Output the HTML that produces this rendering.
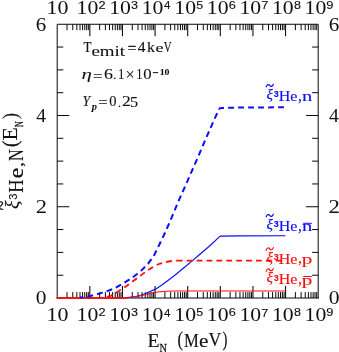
<!DOCTYPE html>
<html><head><meta charset="utf-8"><style>
html,body{margin:0;padding:0;background:#fff;}
svg{display:block;will-change:transform}
</style></head><body>
<svg width="339" height="352" viewBox="0 0 339 352">
<rect width="339" height="352" fill="#fff"/>
<path d="M57.20,298.50 V24.25 H318.20 V298.50" fill="none" stroke="#080808" stroke-width="1.0" stroke-linejoin="miter"/>
<line x1="56.70" y1="298.00" x2="318.70" y2="298.00" stroke="#080808" stroke-width="1.0"/>
<line x1="67.02" y1="24.25" x2="67.02" y2="30.15" stroke="#080808" stroke-width="1.0"/>
<line x1="67.02" y1="298.00" x2="67.02" y2="292.10" stroke="#080808" stroke-width="1.0"/>
<line x1="72.77" y1="24.25" x2="72.77" y2="30.15" stroke="#080808" stroke-width="1.0"/>
<line x1="72.77" y1="298.00" x2="72.77" y2="292.10" stroke="#080808" stroke-width="1.0"/>
<line x1="76.84" y1="24.25" x2="76.84" y2="30.15" stroke="#080808" stroke-width="1.0"/>
<line x1="76.84" y1="298.00" x2="76.84" y2="292.10" stroke="#080808" stroke-width="1.0"/>
<line x1="80.00" y1="24.25" x2="80.00" y2="30.15" stroke="#080808" stroke-width="1.0"/>
<line x1="80.00" y1="298.00" x2="80.00" y2="292.10" stroke="#080808" stroke-width="1.0"/>
<line x1="82.59" y1="24.25" x2="82.59" y2="30.15" stroke="#080808" stroke-width="1.0"/>
<line x1="82.59" y1="298.00" x2="82.59" y2="292.10" stroke="#080808" stroke-width="1.0"/>
<line x1="84.77" y1="24.25" x2="84.77" y2="30.15" stroke="#080808" stroke-width="1.0"/>
<line x1="84.77" y1="298.00" x2="84.77" y2="292.10" stroke="#080808" stroke-width="1.0"/>
<line x1="86.66" y1="24.25" x2="86.66" y2="30.15" stroke="#080808" stroke-width="1.0"/>
<line x1="86.66" y1="298.00" x2="86.66" y2="292.10" stroke="#080808" stroke-width="1.0"/>
<line x1="88.33" y1="24.25" x2="88.33" y2="30.15" stroke="#080808" stroke-width="1.0"/>
<line x1="88.33" y1="298.00" x2="88.33" y2="292.10" stroke="#080808" stroke-width="1.0"/>
<line x1="89.83" y1="24.25" x2="89.83" y2="36.15" stroke="#080808" stroke-width="1.05"/>
<line x1="89.83" y1="298.00" x2="89.83" y2="286.10" stroke="#080808" stroke-width="1.05"/>
<line x1="99.65" y1="24.25" x2="99.65" y2="30.15" stroke="#080808" stroke-width="1.0"/>
<line x1="99.65" y1="298.00" x2="99.65" y2="292.10" stroke="#080808" stroke-width="1.0"/>
<line x1="105.39" y1="24.25" x2="105.39" y2="30.15" stroke="#080808" stroke-width="1.0"/>
<line x1="105.39" y1="298.00" x2="105.39" y2="292.10" stroke="#080808" stroke-width="1.0"/>
<line x1="109.47" y1="24.25" x2="109.47" y2="30.15" stroke="#080808" stroke-width="1.0"/>
<line x1="109.47" y1="298.00" x2="109.47" y2="292.10" stroke="#080808" stroke-width="1.0"/>
<line x1="112.63" y1="24.25" x2="112.63" y2="30.15" stroke="#080808" stroke-width="1.0"/>
<line x1="112.63" y1="298.00" x2="112.63" y2="292.10" stroke="#080808" stroke-width="1.0"/>
<line x1="115.21" y1="24.25" x2="115.21" y2="30.15" stroke="#080808" stroke-width="1.0"/>
<line x1="115.21" y1="298.00" x2="115.21" y2="292.10" stroke="#080808" stroke-width="1.0"/>
<line x1="117.40" y1="24.25" x2="117.40" y2="30.15" stroke="#080808" stroke-width="1.0"/>
<line x1="117.40" y1="298.00" x2="117.40" y2="292.10" stroke="#080808" stroke-width="1.0"/>
<line x1="119.29" y1="24.25" x2="119.29" y2="30.15" stroke="#080808" stroke-width="1.0"/>
<line x1="119.29" y1="298.00" x2="119.29" y2="292.10" stroke="#080808" stroke-width="1.0"/>
<line x1="120.96" y1="24.25" x2="120.96" y2="30.15" stroke="#080808" stroke-width="1.0"/>
<line x1="120.96" y1="298.00" x2="120.96" y2="292.10" stroke="#080808" stroke-width="1.0"/>
<line x1="122.45" y1="24.25" x2="122.45" y2="36.15" stroke="#080808" stroke-width="1.05"/>
<line x1="122.45" y1="298.00" x2="122.45" y2="286.10" stroke="#080808" stroke-width="1.05"/>
<line x1="132.27" y1="24.25" x2="132.27" y2="30.15" stroke="#080808" stroke-width="1.0"/>
<line x1="132.27" y1="298.00" x2="132.27" y2="292.10" stroke="#080808" stroke-width="1.0"/>
<line x1="138.02" y1="24.25" x2="138.02" y2="30.15" stroke="#080808" stroke-width="1.0"/>
<line x1="138.02" y1="298.00" x2="138.02" y2="292.10" stroke="#080808" stroke-width="1.0"/>
<line x1="142.09" y1="24.25" x2="142.09" y2="30.15" stroke="#080808" stroke-width="1.0"/>
<line x1="142.09" y1="298.00" x2="142.09" y2="292.10" stroke="#080808" stroke-width="1.0"/>
<line x1="145.25" y1="24.25" x2="145.25" y2="30.15" stroke="#080808" stroke-width="1.0"/>
<line x1="145.25" y1="298.00" x2="145.25" y2="292.10" stroke="#080808" stroke-width="1.0"/>
<line x1="147.84" y1="24.25" x2="147.84" y2="30.15" stroke="#080808" stroke-width="1.0"/>
<line x1="147.84" y1="298.00" x2="147.84" y2="292.10" stroke="#080808" stroke-width="1.0"/>
<line x1="150.02" y1="24.25" x2="150.02" y2="30.15" stroke="#080808" stroke-width="1.0"/>
<line x1="150.02" y1="298.00" x2="150.02" y2="292.10" stroke="#080808" stroke-width="1.0"/>
<line x1="151.91" y1="24.25" x2="151.91" y2="30.15" stroke="#080808" stroke-width="1.0"/>
<line x1="151.91" y1="298.00" x2="151.91" y2="292.10" stroke="#080808" stroke-width="1.0"/>
<line x1="153.58" y1="24.25" x2="153.58" y2="30.15" stroke="#080808" stroke-width="1.0"/>
<line x1="153.58" y1="298.00" x2="153.58" y2="292.10" stroke="#080808" stroke-width="1.0"/>
<line x1="155.07" y1="24.25" x2="155.07" y2="36.15" stroke="#080808" stroke-width="1.05"/>
<line x1="155.07" y1="298.00" x2="155.07" y2="286.10" stroke="#080808" stroke-width="1.05"/>
<line x1="164.90" y1="24.25" x2="164.90" y2="30.15" stroke="#080808" stroke-width="1.0"/>
<line x1="164.90" y1="298.00" x2="164.90" y2="292.10" stroke="#080808" stroke-width="1.0"/>
<line x1="170.64" y1="24.25" x2="170.64" y2="30.15" stroke="#080808" stroke-width="1.0"/>
<line x1="170.64" y1="298.00" x2="170.64" y2="292.10" stroke="#080808" stroke-width="1.0"/>
<line x1="174.72" y1="24.25" x2="174.72" y2="30.15" stroke="#080808" stroke-width="1.0"/>
<line x1="174.72" y1="298.00" x2="174.72" y2="292.10" stroke="#080808" stroke-width="1.0"/>
<line x1="177.88" y1="24.25" x2="177.88" y2="30.15" stroke="#080808" stroke-width="1.0"/>
<line x1="177.88" y1="298.00" x2="177.88" y2="292.10" stroke="#080808" stroke-width="1.0"/>
<line x1="180.46" y1="24.25" x2="180.46" y2="30.15" stroke="#080808" stroke-width="1.0"/>
<line x1="180.46" y1="298.00" x2="180.46" y2="292.10" stroke="#080808" stroke-width="1.0"/>
<line x1="182.65" y1="24.25" x2="182.65" y2="30.15" stroke="#080808" stroke-width="1.0"/>
<line x1="182.65" y1="298.00" x2="182.65" y2="292.10" stroke="#080808" stroke-width="1.0"/>
<line x1="184.54" y1="24.25" x2="184.54" y2="30.15" stroke="#080808" stroke-width="1.0"/>
<line x1="184.54" y1="298.00" x2="184.54" y2="292.10" stroke="#080808" stroke-width="1.0"/>
<line x1="186.21" y1="24.25" x2="186.21" y2="30.15" stroke="#080808" stroke-width="1.0"/>
<line x1="186.21" y1="298.00" x2="186.21" y2="292.10" stroke="#080808" stroke-width="1.0"/>
<line x1="187.70" y1="24.25" x2="187.70" y2="36.15" stroke="#080808" stroke-width="1.05"/>
<line x1="187.70" y1="298.00" x2="187.70" y2="286.10" stroke="#080808" stroke-width="1.05"/>
<line x1="197.52" y1="24.25" x2="197.52" y2="30.15" stroke="#080808" stroke-width="1.0"/>
<line x1="197.52" y1="298.00" x2="197.52" y2="292.10" stroke="#080808" stroke-width="1.0"/>
<line x1="203.27" y1="24.25" x2="203.27" y2="30.15" stroke="#080808" stroke-width="1.0"/>
<line x1="203.27" y1="298.00" x2="203.27" y2="292.10" stroke="#080808" stroke-width="1.0"/>
<line x1="207.34" y1="24.25" x2="207.34" y2="30.15" stroke="#080808" stroke-width="1.0"/>
<line x1="207.34" y1="298.00" x2="207.34" y2="292.10" stroke="#080808" stroke-width="1.0"/>
<line x1="210.50" y1="24.25" x2="210.50" y2="30.15" stroke="#080808" stroke-width="1.0"/>
<line x1="210.50" y1="298.00" x2="210.50" y2="292.10" stroke="#080808" stroke-width="1.0"/>
<line x1="213.09" y1="24.25" x2="213.09" y2="30.15" stroke="#080808" stroke-width="1.0"/>
<line x1="213.09" y1="298.00" x2="213.09" y2="292.10" stroke="#080808" stroke-width="1.0"/>
<line x1="215.27" y1="24.25" x2="215.27" y2="30.15" stroke="#080808" stroke-width="1.0"/>
<line x1="215.27" y1="298.00" x2="215.27" y2="292.10" stroke="#080808" stroke-width="1.0"/>
<line x1="217.16" y1="24.25" x2="217.16" y2="30.15" stroke="#080808" stroke-width="1.0"/>
<line x1="217.16" y1="298.00" x2="217.16" y2="292.10" stroke="#080808" stroke-width="1.0"/>
<line x1="218.83" y1="24.25" x2="218.83" y2="30.15" stroke="#080808" stroke-width="1.0"/>
<line x1="218.83" y1="298.00" x2="218.83" y2="292.10" stroke="#080808" stroke-width="1.0"/>
<line x1="220.32" y1="24.25" x2="220.32" y2="36.15" stroke="#080808" stroke-width="1.05"/>
<line x1="220.32" y1="298.00" x2="220.32" y2="286.10" stroke="#080808" stroke-width="1.05"/>
<line x1="230.15" y1="24.25" x2="230.15" y2="30.15" stroke="#080808" stroke-width="1.0"/>
<line x1="230.15" y1="298.00" x2="230.15" y2="292.10" stroke="#080808" stroke-width="1.0"/>
<line x1="235.89" y1="24.25" x2="235.89" y2="30.15" stroke="#080808" stroke-width="1.0"/>
<line x1="235.89" y1="298.00" x2="235.89" y2="292.10" stroke="#080808" stroke-width="1.0"/>
<line x1="239.97" y1="24.25" x2="239.97" y2="30.15" stroke="#080808" stroke-width="1.0"/>
<line x1="239.97" y1="298.00" x2="239.97" y2="292.10" stroke="#080808" stroke-width="1.0"/>
<line x1="243.13" y1="24.25" x2="243.13" y2="30.15" stroke="#080808" stroke-width="1.0"/>
<line x1="243.13" y1="298.00" x2="243.13" y2="292.10" stroke="#080808" stroke-width="1.0"/>
<line x1="245.71" y1="24.25" x2="245.71" y2="30.15" stroke="#080808" stroke-width="1.0"/>
<line x1="245.71" y1="298.00" x2="245.71" y2="292.10" stroke="#080808" stroke-width="1.0"/>
<line x1="247.90" y1="24.25" x2="247.90" y2="30.15" stroke="#080808" stroke-width="1.0"/>
<line x1="247.90" y1="298.00" x2="247.90" y2="292.10" stroke="#080808" stroke-width="1.0"/>
<line x1="249.79" y1="24.25" x2="249.79" y2="30.15" stroke="#080808" stroke-width="1.0"/>
<line x1="249.79" y1="298.00" x2="249.79" y2="292.10" stroke="#080808" stroke-width="1.0"/>
<line x1="251.46" y1="24.25" x2="251.46" y2="30.15" stroke="#080808" stroke-width="1.0"/>
<line x1="251.46" y1="298.00" x2="251.46" y2="292.10" stroke="#080808" stroke-width="1.0"/>
<line x1="252.95" y1="24.25" x2="252.95" y2="36.15" stroke="#080808" stroke-width="1.05"/>
<line x1="252.95" y1="298.00" x2="252.95" y2="286.10" stroke="#080808" stroke-width="1.05"/>
<line x1="262.77" y1="24.25" x2="262.77" y2="30.15" stroke="#080808" stroke-width="1.0"/>
<line x1="262.77" y1="298.00" x2="262.77" y2="292.10" stroke="#080808" stroke-width="1.0"/>
<line x1="268.52" y1="24.25" x2="268.52" y2="30.15" stroke="#080808" stroke-width="1.0"/>
<line x1="268.52" y1="298.00" x2="268.52" y2="292.10" stroke="#080808" stroke-width="1.0"/>
<line x1="272.59" y1="24.25" x2="272.59" y2="30.15" stroke="#080808" stroke-width="1.0"/>
<line x1="272.59" y1="298.00" x2="272.59" y2="292.10" stroke="#080808" stroke-width="1.0"/>
<line x1="275.75" y1="24.25" x2="275.75" y2="30.15" stroke="#080808" stroke-width="1.0"/>
<line x1="275.75" y1="298.00" x2="275.75" y2="292.10" stroke="#080808" stroke-width="1.0"/>
<line x1="278.34" y1="24.25" x2="278.34" y2="30.15" stroke="#080808" stroke-width="1.0"/>
<line x1="278.34" y1="298.00" x2="278.34" y2="292.10" stroke="#080808" stroke-width="1.0"/>
<line x1="280.52" y1="24.25" x2="280.52" y2="30.15" stroke="#080808" stroke-width="1.0"/>
<line x1="280.52" y1="298.00" x2="280.52" y2="292.10" stroke="#080808" stroke-width="1.0"/>
<line x1="282.41" y1="24.25" x2="282.41" y2="30.15" stroke="#080808" stroke-width="1.0"/>
<line x1="282.41" y1="298.00" x2="282.41" y2="292.10" stroke="#080808" stroke-width="1.0"/>
<line x1="284.08" y1="24.25" x2="284.08" y2="30.15" stroke="#080808" stroke-width="1.0"/>
<line x1="284.08" y1="298.00" x2="284.08" y2="292.10" stroke="#080808" stroke-width="1.0"/>
<line x1="285.57" y1="24.25" x2="285.57" y2="36.15" stroke="#080808" stroke-width="1.05"/>
<line x1="285.57" y1="298.00" x2="285.57" y2="286.10" stroke="#080808" stroke-width="1.05"/>
<line x1="295.40" y1="24.25" x2="295.40" y2="30.15" stroke="#080808" stroke-width="1.0"/>
<line x1="295.40" y1="298.00" x2="295.40" y2="292.10" stroke="#080808" stroke-width="1.0"/>
<line x1="301.14" y1="24.25" x2="301.14" y2="30.15" stroke="#080808" stroke-width="1.0"/>
<line x1="301.14" y1="298.00" x2="301.14" y2="292.10" stroke="#080808" stroke-width="1.0"/>
<line x1="305.22" y1="24.25" x2="305.22" y2="30.15" stroke="#080808" stroke-width="1.0"/>
<line x1="305.22" y1="298.00" x2="305.22" y2="292.10" stroke="#080808" stroke-width="1.0"/>
<line x1="308.38" y1="24.25" x2="308.38" y2="30.15" stroke="#080808" stroke-width="1.0"/>
<line x1="308.38" y1="298.00" x2="308.38" y2="292.10" stroke="#080808" stroke-width="1.0"/>
<line x1="310.96" y1="24.25" x2="310.96" y2="30.15" stroke="#080808" stroke-width="1.0"/>
<line x1="310.96" y1="298.00" x2="310.96" y2="292.10" stroke="#080808" stroke-width="1.0"/>
<line x1="313.15" y1="24.25" x2="313.15" y2="30.15" stroke="#080808" stroke-width="1.0"/>
<line x1="313.15" y1="298.00" x2="313.15" y2="292.10" stroke="#080808" stroke-width="1.0"/>
<line x1="315.04" y1="24.25" x2="315.04" y2="30.15" stroke="#080808" stroke-width="1.0"/>
<line x1="315.04" y1="298.00" x2="315.04" y2="292.10" stroke="#080808" stroke-width="1.0"/>
<line x1="316.71" y1="24.25" x2="316.71" y2="30.15" stroke="#080808" stroke-width="1.0"/>
<line x1="316.71" y1="298.00" x2="316.71" y2="292.10" stroke="#080808" stroke-width="1.0"/>
<line x1="57.20" y1="275.19" x2="63.30" y2="275.19" stroke="#080808" stroke-width="1.0"/>
<line x1="318.20" y1="275.19" x2="312.10" y2="275.19" stroke="#080808" stroke-width="1.0"/>
<line x1="57.20" y1="252.38" x2="63.30" y2="252.38" stroke="#080808" stroke-width="1.0"/>
<line x1="318.20" y1="252.38" x2="312.10" y2="252.38" stroke="#080808" stroke-width="1.0"/>
<line x1="57.20" y1="229.56" x2="63.30" y2="229.56" stroke="#080808" stroke-width="1.0"/>
<line x1="318.20" y1="229.56" x2="312.10" y2="229.56" stroke="#080808" stroke-width="1.0"/>
<line x1="57.20" y1="206.75" x2="69.30" y2="206.75" stroke="#080808" stroke-width="1.0"/>
<line x1="318.20" y1="206.75" x2="306.10" y2="206.75" stroke="#080808" stroke-width="1.0"/>
<line x1="57.20" y1="183.94" x2="63.30" y2="183.94" stroke="#080808" stroke-width="1.0"/>
<line x1="318.20" y1="183.94" x2="312.10" y2="183.94" stroke="#080808" stroke-width="1.0"/>
<line x1="57.20" y1="161.12" x2="63.30" y2="161.12" stroke="#080808" stroke-width="1.0"/>
<line x1="318.20" y1="161.12" x2="312.10" y2="161.12" stroke="#080808" stroke-width="1.0"/>
<line x1="57.20" y1="138.31" x2="63.30" y2="138.31" stroke="#080808" stroke-width="1.0"/>
<line x1="318.20" y1="138.31" x2="312.10" y2="138.31" stroke="#080808" stroke-width="1.0"/>
<line x1="57.20" y1="115.50" x2="69.30" y2="115.50" stroke="#080808" stroke-width="1.0"/>
<line x1="318.20" y1="115.50" x2="306.10" y2="115.50" stroke="#080808" stroke-width="1.0"/>
<line x1="57.20" y1="92.69" x2="63.30" y2="92.69" stroke="#080808" stroke-width="1.0"/>
<line x1="318.20" y1="92.69" x2="312.10" y2="92.69" stroke="#080808" stroke-width="1.0"/>
<line x1="57.20" y1="69.88" x2="63.30" y2="69.88" stroke="#080808" stroke-width="1.0"/>
<line x1="318.20" y1="69.88" x2="312.10" y2="69.88" stroke="#080808" stroke-width="1.0"/>
<line x1="57.20" y1="47.06" x2="63.30" y2="47.06" stroke="#080808" stroke-width="1.0"/>
<line x1="318.20" y1="47.06" x2="312.10" y2="47.06" stroke="#080808" stroke-width="1.0"/>
<path d="M116.0,297.9 L121.0,297.8 L126.9,297.5 L135.7,296.6 L140.0,295.5 L144.6,294.0 L148.8,292.1 L155.0,289.4 L161.2,285.5 L168.3,280.2 L175.4,274.7 L184.2,267.5 L193.1,260.1 L199.3,254.8 L209.0,246.5 L219.9,236.4 L220.7,236.1 L240.0,235.9 L285.5,235.7" fill="none" stroke="#0c0cff" stroke-width="1.15" stroke-linejoin="round"/>
<path d="M57.6,297.9 L122.0,297.8 L130.0,297.4 L135.7,296.8 L140.0,295.9 L148.8,293.8 L157.7,291.9 L166.5,291.3 L175.4,291.0 L285.5,291.0" fill="none" stroke="#ff0c0c" stroke-width="1.05" stroke-linejoin="round"/>
<line x1="56.6" y1="298.0" x2="128" y2="298.0" stroke="#ff0c0c" stroke-width="1.5"/>
<path d="M176.8,260.6 L285.5,260.6" fill="none" stroke="#ff0c0c" stroke-width="1.8" stroke-dasharray="5.8 4.1"/>
<path d="M176.8,260.6 L176.0,260.7 L171.9,261.0 L168.5,261.5 L164.8,262.3 L161.0,263.4 L157.7,264.5 L154.3,266.2 L150.6,268.5 L146.3,271.3 L139.2,276.6 L132.2,281.9 L125.1,286.9 L118.0,291.6 L110.9,295.8 L105.6,297.3 L100.0,297.8 L57.6,297.9" fill="none" stroke="#ff0c0c" stroke-width="1.8" stroke-dasharray="5.8 4.1" stroke-dashoffset="4.9" stroke-linejoin="round"/>
<path d="M219.3,108.7 L220.2,108.2 L222.0,108.0 L230.0,107.7 L245.0,107.5 L285.5,107.3" fill="none" stroke="#0c0cff" stroke-width="2.0" stroke-dasharray="5.8 4.2" stroke-dashoffset="1.0" stroke-linejoin="round"/>
<path d="M219.3,108.7 L213.8,120.5 L204.9,140.9 L196.1,161.4 L187.1,181.8 L178.0,202.3 L169.5,222.7 L164.2,234.5 L160.0,243.2 L153.8,255.9 L148.1,263.7 L141.0,270.9 L132.2,277.8 L123.3,283.3 L114.5,288.3 L105.6,291.8 L96.8,294.3 L87.5,296.8 L80.0,297.6" fill="none" stroke="#0c0cff" stroke-width="2.0" stroke-dasharray="5.95 4.06" stroke-dashoffset="5.0" stroke-linejoin="round"/>
<path transform="translate(0,0)" d="M266.2,86.9 C266.9,84.3 268.7,84.0 269.7,85.4 C270.7,86.9 272.4,86.7 273.3,84.2" fill="none" stroke="#0c0cff" stroke-width="1.2" stroke-linecap="round"/>
<path transform="translate(0,130)" d="M266.2,86.9 C266.9,84.3 268.7,84.0 269.7,85.4 C270.7,86.9 272.4,86.7 273.3,84.2" fill="none" stroke="#0c0cff" stroke-width="1.2" stroke-linecap="round"/>
<path transform="translate(0,163.4)" d="M266.2,86.9 C266.9,84.3 268.7,84.0 269.7,85.4 C270.7,86.9 272.4,86.7 273.3,84.2" fill="none" stroke="#ff0c0c" stroke-width="1.2" stroke-linecap="round"/>
<path transform="translate(0,184.39999999999998)" d="M266.2,86.9 C266.9,84.3 268.7,84.0 269.7,85.4 C270.7,86.9 272.4,86.7 273.3,84.2" fill="none" stroke="#ff0c0c" stroke-width="1.2" stroke-linecap="round"/>
<line x1="152.90" y1="72.60" x2="158.20" y2="72.60" stroke="#111" stroke-width="1.0"/>
<line x1="303.20" y1="223.30" x2="311.80" y2="223.30" stroke="#0c0cff" stroke-width="1.0"/>
<line x1="303.20" y1="276.50" x2="311.80" y2="276.50" stroke="#ff0c0c" stroke-width="1.0"/>
<text transform="translate(46.62,13.91) scale(1.1225,1)" font-size="19.56" font-family="Liberation Serif, serif" fill="#111">10</text>
<text transform="translate(46.62,321.41) scale(1.1310,1)" font-size="19.41" font-family="Liberation Serif, serif" fill="#111">10</text>
<text transform="translate(76.61,13.91) scale(1.1107,1)" font-size="19.56" font-family="Liberation Serif, serif" fill="#111">10</text>
<text transform="translate(98.38,8.74) scale(1.1501,1)" font-size="11.11" font-family="Liberation Sans, sans-serif" fill="#111" stroke="#111" stroke-width="0.12" stroke-linejoin="round">2</text>
<text transform="translate(76.61,321.41) scale(1.1191,1)" font-size="19.41" font-family="Liberation Serif, serif" fill="#111">10</text>
<text transform="translate(98.38,316.44) scale(1.1501,1)" font-size="11.11" font-family="Liberation Sans, sans-serif" fill="#111" stroke="#111" stroke-width="0.12" stroke-linejoin="round">2</text>
<text transform="translate(109.17,13.91) scale(1.1107,1)" font-size="19.56" font-family="Liberation Serif, serif" fill="#111">10</text>
<text transform="translate(131.08,8.63) scale(1.1417,1)" font-size="10.96" font-family="Liberation Sans, sans-serif" fill="#111" stroke="#111" stroke-width="0.12" stroke-linejoin="round">3</text>
<text transform="translate(109.17,321.41) scale(1.1191,1)" font-size="19.41" font-family="Liberation Serif, serif" fill="#111">10</text>
<text transform="translate(131.08,316.33) scale(1.1417,1)" font-size="10.96" font-family="Liberation Sans, sans-serif" fill="#111" stroke="#111" stroke-width="0.12" stroke-linejoin="round">3</text>
<text transform="translate(141.73,13.91) scale(1.1107,1)" font-size="19.56" font-family="Liberation Serif, serif" fill="#111">10</text>
<text transform="translate(163.92,8.85) scale(1.0077,1)" font-size="11.44" font-family="Liberation Sans, sans-serif" fill="#111" stroke="#111" stroke-width="0.12" stroke-linejoin="round">4</text>
<text transform="translate(141.73,321.41) scale(1.1191,1)" font-size="19.41" font-family="Liberation Serif, serif" fill="#111">10</text>
<text transform="translate(163.92,316.55) scale(1.0077,1)" font-size="11.44" font-family="Liberation Sans, sans-serif" fill="#111" stroke="#111" stroke-width="0.12" stroke-linejoin="round">4</text>
<text transform="translate(174.29,13.91) scale(1.1107,1)" font-size="19.56" font-family="Liberation Serif, serif" fill="#111">10</text>
<text transform="translate(196.21,8.63) scale(1.1256,1)" font-size="11.11" font-family="Liberation Sans, sans-serif" fill="#111" stroke="#111" stroke-width="0.12" stroke-linejoin="round">5</text>
<text transform="translate(174.29,321.41) scale(1.1191,1)" font-size="19.41" font-family="Liberation Serif, serif" fill="#111">10</text>
<text transform="translate(196.21,316.33) scale(1.1256,1)" font-size="11.11" font-family="Liberation Sans, sans-serif" fill="#111" stroke="#111" stroke-width="0.12" stroke-linejoin="round">5</text>
<text transform="translate(206.86,13.91) scale(1.1107,1)" font-size="19.56" font-family="Liberation Serif, serif" fill="#111">10</text>
<text transform="translate(228.63,8.63) scale(1.1665,1)" font-size="10.96" font-family="Liberation Sans, sans-serif" fill="#111" stroke="#111" stroke-width="0.12" stroke-linejoin="round">6</text>
<text transform="translate(206.86,321.41) scale(1.1191,1)" font-size="19.41" font-family="Liberation Serif, serif" fill="#111">10</text>
<text transform="translate(228.63,316.33) scale(1.1665,1)" font-size="10.96" font-family="Liberation Sans, sans-serif" fill="#111" stroke="#111" stroke-width="0.12" stroke-linejoin="round">6</text>
<text transform="translate(239.42,13.91) scale(1.1107,1)" font-size="19.56" font-family="Liberation Serif, serif" fill="#111">10</text>
<text transform="translate(261.20,8.85) scale(1.1172,1)" font-size="11.44" font-family="Liberation Sans, sans-serif" fill="#111" stroke="#111" stroke-width="0.12" stroke-linejoin="round">7</text>
<text transform="translate(239.42,321.41) scale(1.1191,1)" font-size="19.41" font-family="Liberation Serif, serif" fill="#111">10</text>
<text transform="translate(261.20,316.55) scale(1.1172,1)" font-size="11.44" font-family="Liberation Sans, sans-serif" fill="#111" stroke="#111" stroke-width="0.12" stroke-linejoin="round">7</text>
<text transform="translate(271.98,13.91) scale(1.1107,1)" font-size="19.56" font-family="Liberation Serif, serif" fill="#111">10</text>
<text transform="translate(293.90,8.63) scale(1.1417,1)" font-size="10.96" font-family="Liberation Sans, sans-serif" fill="#111" stroke="#111" stroke-width="0.12" stroke-linejoin="round">8</text>
<text transform="translate(271.98,321.41) scale(1.1191,1)" font-size="19.41" font-family="Liberation Serif, serif" fill="#111">10</text>
<text transform="translate(293.90,316.33) scale(1.1417,1)" font-size="10.96" font-family="Liberation Sans, sans-serif" fill="#111" stroke="#111" stroke-width="0.12" stroke-linejoin="round">8</text>
<text transform="translate(304.54,13.91) scale(1.1107,1)" font-size="19.56" font-family="Liberation Serif, serif" fill="#111">10</text>
<text transform="translate(326.32,8.63) scale(1.1665,1)" font-size="10.96" font-family="Liberation Sans, sans-serif" fill="#111" stroke="#111" stroke-width="0.12" stroke-linejoin="round">9</text>
<text transform="translate(304.54,321.41) scale(1.1191,1)" font-size="19.41" font-family="Liberation Serif, serif" fill="#111">10</text>
<text transform="translate(326.32,316.33) scale(1.1665,1)" font-size="10.96" font-family="Liberation Sans, sans-serif" fill="#111" stroke="#111" stroke-width="0.12" stroke-linejoin="round">9</text>
<text transform="translate(35.74,304.01) scale(1.1130,1)" font-size="19.25" font-family="Liberation Serif, serif" fill="#111">0</text>
<text transform="translate(328.63,304.01) scale(1.1253,1)" font-size="19.25" font-family="Liberation Serif, serif" fill="#111">0</text>
<text transform="translate(35.70,213.23) scale(1.1337,1)" font-size="19.85" font-family="Liberation Serif, serif" fill="#111">2</text>
<text transform="translate(328.59,213.23) scale(1.1463,1)" font-size="19.85" font-family="Liberation Serif, serif" fill="#111">2</text>
<text transform="translate(36.21,122.07) scale(0.9858,1)" font-size="19.85" font-family="Liberation Serif, serif" fill="#111">4</text>
<text transform="translate(329.10,122.07) scale(0.9968,1)" font-size="19.85" font-family="Liberation Serif, serif" fill="#111">4</text>
<text transform="translate(35.76,30.52) scale(1.0871,1)" font-size="19.25" font-family="Liberation Serif, serif" fill="#111">6</text>
<text transform="translate(328.65,30.52) scale(1.0992,1)" font-size="19.25" font-family="Liberation Serif, serif" fill="#111">6</text>
<text transform="translate(147.48,346.62) scale(1.0212,1)" font-size="19.31" font-family="Liberation Serif, serif" fill="#111" stroke="#111" stroke-width="0.15" stroke-linejoin="round">E</text>
<text transform="translate(159.41,351.77) scale(0.8700,1)" font-size="11.92" font-family="Liberation Serif, serif" fill="#111" stroke="#111" stroke-width="0.25" stroke-linejoin="round">N</text>
<text transform="translate(177.41,345.64) scale(0.8389,1)" font-size="19.94" font-family="Liberation Serif, serif" fill="#111" stroke="#111" stroke-width="0.15" stroke-linejoin="round">(</text>
<text transform="translate(183.97,346.62) scale(0.8643,1)" font-size="19.31" font-family="Liberation Serif, serif" fill="#111" stroke="#111" stroke-width="0.15" stroke-linejoin="round">M</text>
<text transform="translate(198.93,346.65) scale(1.1911,1)" font-size="17.81" font-family="Liberation Serif, serif" fill="#111" stroke="#111" stroke-width="0.15" stroke-linejoin="round">e</text>
<text transform="translate(208.40,346.44) scale(0.9271,1)" font-size="19.03" font-family="Liberation Serif, serif" fill="#111" stroke="#111" stroke-width="0.15" stroke-linejoin="round">V</text>
<text transform="translate(222.43,345.64) scale(0.7424,1)" font-size="19.94" font-family="Liberation Serif, serif" fill="#111" stroke="#111" stroke-width="0.15" stroke-linejoin="round">)</text>
<text transform="translate(17.78,209.11) rotate(-90) scale(1.0572,1)" font-size="18.56" font-family="Liberation Serif, serif" fill="#111" font-style="italic" stroke="#111" stroke-width="0.15" stroke-linejoin="round">ξ</text>
<text transform="translate(8.40,210.38) rotate(-90) scale(0.9188,1)" font-size="20.29" font-family="Liberation Serif, serif" fill="#111" stroke="#111" stroke-width="0.15" stroke-linejoin="round">~</text>
<text transform="translate(16.64,199.69) rotate(-90) scale(0.9943,1)" font-size="11.13" font-family="Liberation Sans, sans-serif" fill="#111" stroke="#111" stroke-width="0.1" stroke-linejoin="round">3</text>
<text transform="translate(22.93,192.68) rotate(-90) scale(0.8517,1)" font-size="21.62" font-family="Liberation Serif, serif" fill="#111" stroke="#111" stroke-width="0.15" stroke-linejoin="round">H</text>
<text transform="translate(23.02,178.17) rotate(-90) scale(1.1524,1)" font-size="20.52" font-family="Liberation Serif, serif" fill="#111" stroke="#111" stroke-width="0.15" stroke-linejoin="round">e</text>
<text transform="translate(22.77,166.91) rotate(-90) scale(1.1569,1)" font-size="17.00" font-family="Liberation Serif, serif" fill="#111" stroke="#111" stroke-width="0.15" stroke-linejoin="round">,</text>
<text transform="translate(22.73,161.12) rotate(-90) scale(0.7670,1)" font-size="21.31" font-family="Liberation Serif, serif" fill="#111" stroke="#111" stroke-width="0.15" stroke-linejoin="round">N</text>
<text transform="translate(16.66,147.00) rotate(-90) scale(0.9128,1)" font-size="21.28" font-family="Liberation Serif, serif" fill="#111" stroke="#111" stroke-width="0.15" stroke-linejoin="round">(</text>
<text transform="translate(17.23,140.58) rotate(-90) scale(1.0772,1)" font-size="20.23" font-family="Liberation Serif, serif" fill="#111" stroke="#111" stroke-width="0.15" stroke-linejoin="round">E</text>
<text transform="translate(22.98,127.23) rotate(-90) scale(0.6644,1)" font-size="12.69" font-family="Liberation Serif, serif" fill="#111" stroke="#111" stroke-width="0.25" stroke-linejoin="round">N</text>
<text transform="translate(16.66,119.06) rotate(-90) scale(0.8405,1)" font-size="21.28" font-family="Liberation Serif, serif" fill="#111" stroke="#111" stroke-width="0.15" stroke-linejoin="round">)</text>
<text transform="translate(83.54,52.20) scale(0.8355,1)" font-size="15.54" font-family="Liberation Serif, serif" fill="#111" stroke="#111" stroke-width="0.2" stroke-linejoin="round">T</text>
<text transform="translate(91.38,55.62) scale(1.3152,1)" font-size="14.42" font-family="Liberation Serif, serif" fill="#111" stroke="#111" stroke-width="0.08" stroke-linejoin="round">emit</text>
<text transform="translate(127.81,53.09) scale(1.0420,1)" font-size="14.60" font-family="Liberation Serif, serif" fill="#111" stroke="#111" stroke-width="0.35" stroke-linejoin="round">=</text>
<text transform="translate(137.86,51.82) scale(1.1164,1)" font-size="13.92" font-family="Liberation Serif, serif" fill="#111" stroke="#111" stroke-width="0.15" stroke-linejoin="round">4</text>
<text transform="translate(146.96,51.82) scale(1.1247,1)" font-size="13.99" font-family="Liberation Serif, serif" fill="#111" stroke="#111" stroke-width="0.15" stroke-linejoin="round">k</text>
<text transform="translate(155.46,51.85) scale(1.3915,1)" font-size="12.92" font-family="Liberation Serif, serif" fill="#111" stroke="#111" stroke-width="0.15" stroke-linejoin="round">e</text>
<text transform="translate(163.67,51.69) scale(0.7688,1)" font-size="14.03" font-family="Liberation Serif, serif" fill="#111" stroke="#111" stroke-width="0.15" stroke-linejoin="round">V</text>
<text transform="translate(81.39,78.96) scale(1.5006,1)" font-size="13.90" font-family="Liberation Serif, serif" fill="#111" font-style="italic" stroke="#111" stroke-width="0.05" stroke-linejoin="round">η</text>
<text transform="translate(93.11,80.53) scale(1.0775,1)" font-size="15.60" font-family="Liberation Serif, serif" fill="#111" stroke="#111" stroke-width="0.1" stroke-linejoin="round">=</text>
<text transform="translate(103.93,79.14) scale(1.1648,1)" font-size="15.37" font-family="Liberation Serif, serif" fill="#111" stroke="#111" stroke-width="0.1" stroke-linejoin="round">6</text>
<text transform="translate(113.03,79.32) scale(1.0909,1)" font-size="13.33" font-family="Liberation Serif, serif" fill="#111" stroke="#111" stroke-width="0.1" stroke-linejoin="round">.</text>
<text transform="translate(117.89,79.25) scale(0.8486,1)" font-size="15.15" font-family="Liberation Serif, serif" fill="#111" stroke="#111" stroke-width="0.1" stroke-linejoin="round">1</text>
<text transform="translate(125.45,80.20) scale(1.0317,1)" font-size="15.75" font-family="Liberation Serif, serif" fill="#111" stroke="#111" stroke-width="0.1" stroke-linejoin="round">×</text>
<text transform="translate(136.22,79.35) scale(0.8134,1)" font-size="15.45" font-family="Liberation Serif, serif" fill="#111" stroke="#111" stroke-width="0.1" stroke-linejoin="round">1</text>
<text transform="translate(143.28,79.24) scale(1.0737,1)" font-size="15.52" font-family="Liberation Serif, serif" fill="#111" stroke="#111" stroke-width="0.1" stroke-linejoin="round">0</text>
<text transform="translate(159.64,75.01) scale(1.1830,1)" font-size="8.31" font-family="Liberation Serif, serif" fill="#111" font-weight="bold" stroke="#111" stroke-width="0.05" stroke-linejoin="round">10</text>
<text transform="translate(82.62,106.35) scale(0.9339,1)" font-size="14.77" font-family="Liberation Serif, serif" fill="#111" font-style="italic" stroke="#111" stroke-width="0.1" stroke-linejoin="round">Y</text>
<text transform="translate(91.86,109.71) scale(1.1204,1)" font-size="9.34" font-family="Liberation Serif, serif" fill="#111" font-style="italic" font-weight="bold" stroke="#111" stroke-width="0.05" stroke-linejoin="round">p</text>
<text transform="translate(98.21,106.77) scale(1.1673,1)" font-size="14.40" font-family="Liberation Serif, serif" fill="#111" stroke="#111" stroke-width="0.1" stroke-linejoin="round">=</text>
<text transform="translate(109.37,106.35) scale(0.9829,1)" font-size="14.78" font-family="Liberation Serif, serif" fill="#111" stroke="#111" stroke-width="0.1" stroke-linejoin="round">0</text>
<text transform="translate(117.80,106.53) scale(1.1688,1)" font-size="11.67" font-family="Liberation Serif, serif" fill="#111" stroke="#111" stroke-width="0.1" stroke-linejoin="round">.</text>
<text transform="translate(121.95,106.35) scale(1.1849,1)" font-size="14.77" font-family="Liberation Serif, serif" fill="#111" stroke="#111" stroke-width="0.1" stroke-linejoin="round">2</text>
<text transform="translate(129.88,106.50) scale(1.0944,1)" font-size="14.85" font-family="Liberation Serif, serif" fill="#111" stroke="#111" stroke-width="0.1" stroke-linejoin="round">5</text>
<text transform="translate(266.54,99.10) scale(1.0375,1)" font-size="14.51" font-family="Liberation Serif, serif" fill="#0c0cff" font-style="italic" stroke="#0c0cff" stroke-width="0.18" stroke-linejoin="round">ξ</text>
<text transform="translate(273.77,97.45) scale(0.9397,1)" font-size="9.58" font-family="Liberation Sans, sans-serif" fill="#0c0cff" font-weight="bold" stroke="#0c0cff" stroke-width="0.1" stroke-linejoin="round">3</text>
<text transform="translate(278.67,101.10) scale(1.0948,1)" font-size="14.70" font-family="Liberation Serif, serif" fill="#0c0cff" stroke="#0c0cff" stroke-width="0.1" stroke-linejoin="round">He</text>
<text transform="translate(298.11,100.89) scale(0.9756,1)" font-size="16.40" font-family="Liberation Serif, serif" fill="#0c0cff" stroke="#0c0cff" stroke-width="0.1" stroke-linejoin="round">,</text>
<text transform="translate(302.04,101.25) scale(1.4707,1)" font-size="14.04" font-family="Liberation Serif, serif" fill="#0c0cff" stroke="#0c0cff" stroke-width="0.1" stroke-linejoin="round">n</text>
<text transform="translate(266.54,229.10) scale(1.0375,1)" font-size="14.51" font-family="Liberation Serif, serif" fill="#0c0cff" font-style="italic" stroke="#0c0cff" stroke-width="0.18" stroke-linejoin="round">ξ</text>
<text transform="translate(273.77,227.45) scale(0.9397,1)" font-size="9.58" font-family="Liberation Sans, sans-serif" fill="#0c0cff" font-weight="bold" stroke="#0c0cff" stroke-width="0.1" stroke-linejoin="round">3</text>
<text transform="translate(278.67,231.10) scale(1.0948,1)" font-size="14.70" font-family="Liberation Serif, serif" fill="#0c0cff" stroke="#0c0cff" stroke-width="0.1" stroke-linejoin="round">He</text>
<text transform="translate(298.11,230.89) scale(0.9756,1)" font-size="16.40" font-family="Liberation Serif, serif" fill="#0c0cff" stroke="#0c0cff" stroke-width="0.1" stroke-linejoin="round">,</text>
<text transform="translate(302.04,231.25) scale(1.4707,1)" font-size="14.04" font-family="Liberation Serif, serif" fill="#0c0cff" stroke="#0c0cff" stroke-width="0.1" stroke-linejoin="round">n</text>
<text transform="translate(266.54,262.20) scale(1.0375,1)" font-size="14.51" font-family="Liberation Serif, serif" fill="#ff0c0c" font-style="italic" stroke="#ff0c0c" stroke-width="0.18" stroke-linejoin="round">ξ</text>
<text transform="translate(273.77,259.85) scale(0.9397,1)" font-size="9.58" font-family="Liberation Sans, sans-serif" fill="#ff0c0c" font-weight="bold" stroke="#ff0c0c" stroke-width="0.1" stroke-linejoin="round">3</text>
<text transform="translate(278.67,263.50) scale(1.0948,1)" font-size="14.70" font-family="Liberation Serif, serif" fill="#ff0c0c" stroke="#ff0c0c" stroke-width="0.1" stroke-linejoin="round">He</text>
<text transform="translate(298.11,263.29) scale(0.9756,1)" font-size="16.40" font-family="Liberation Serif, serif" fill="#ff0c0c" stroke="#ff0c0c" stroke-width="0.1" stroke-linejoin="round">,</text>
<text transform="translate(301.83,263.89) scale(1.4518,1)" font-size="14.56" font-family="Liberation Serif, serif" fill="#ff0c0c" stroke="#ff0c0c" stroke-width="0.1" stroke-linejoin="round">p</text>
<text transform="translate(266.54,282.10) scale(1.0375,1)" font-size="14.51" font-family="Liberation Serif, serif" fill="#ff0c0c" font-style="italic" stroke="#ff0c0c" stroke-width="0.18" stroke-linejoin="round">ξ</text>
<text transform="translate(273.77,280.65) scale(0.9397,1)" font-size="9.58" font-family="Liberation Sans, sans-serif" fill="#ff0c0c" font-weight="bold" stroke="#ff0c0c" stroke-width="0.1" stroke-linejoin="round">3</text>
<text transform="translate(278.67,284.30) scale(1.0948,1)" font-size="14.70" font-family="Liberation Serif, serif" fill="#ff0c0c" stroke="#ff0c0c" stroke-width="0.1" stroke-linejoin="round">He</text>
<text transform="translate(298.11,284.09) scale(0.9756,1)" font-size="16.40" font-family="Liberation Serif, serif" fill="#ff0c0c" stroke="#ff0c0c" stroke-width="0.1" stroke-linejoin="round">,</text>
<text transform="translate(301.83,284.69) scale(1.4518,1)" font-size="14.56" font-family="Liberation Serif, serif" fill="#ff0c0c" stroke="#ff0c0c" stroke-width="0.1" stroke-linejoin="round">p</text>
</svg></body></html>
